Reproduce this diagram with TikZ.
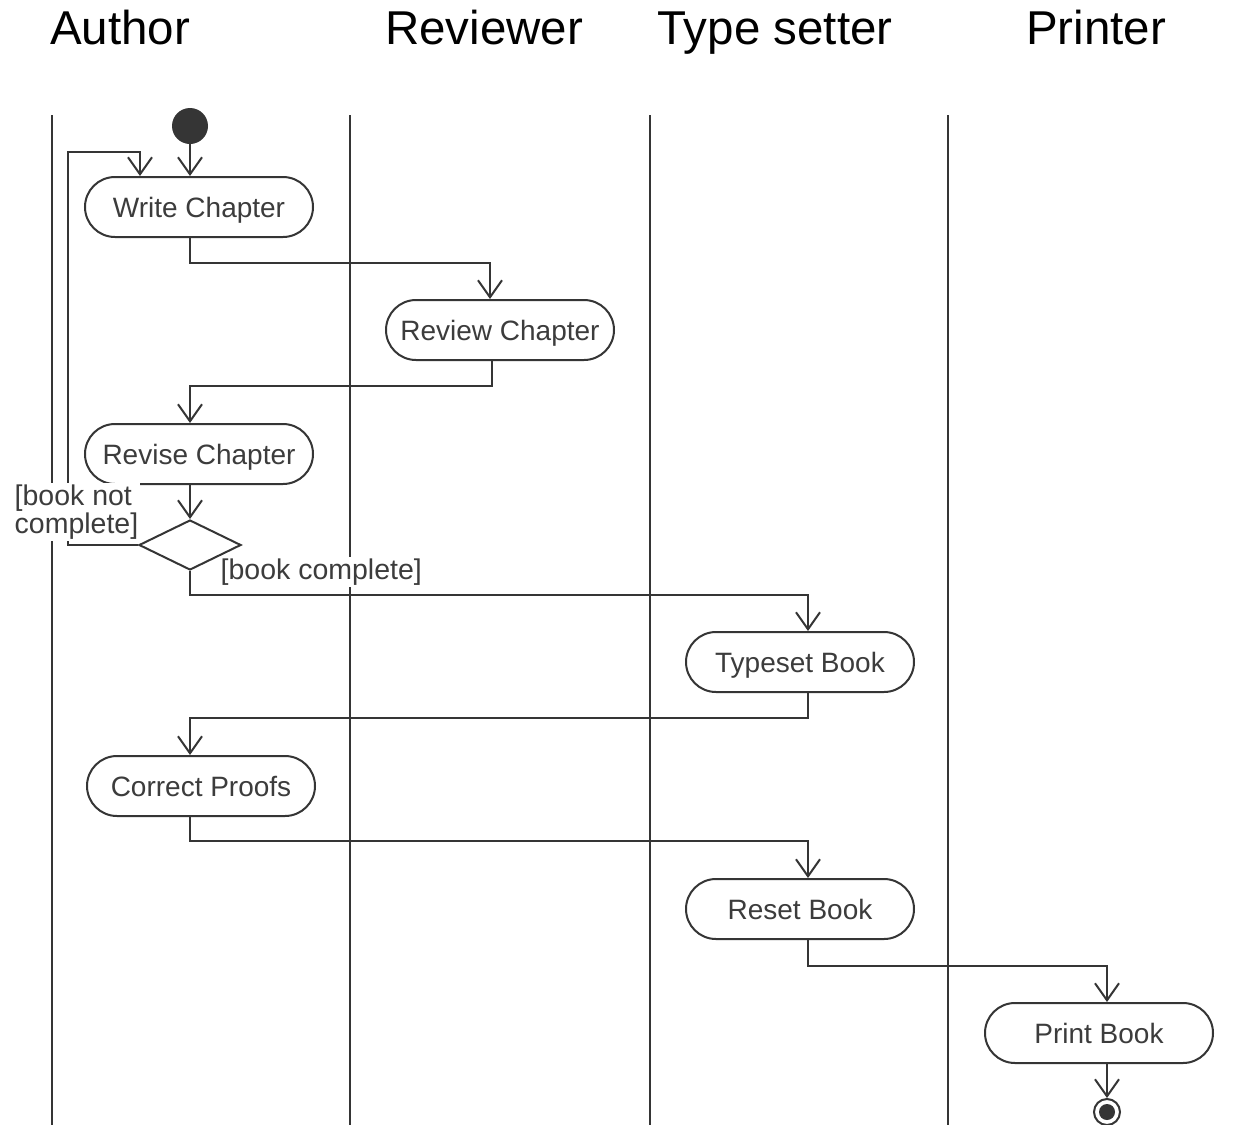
\documentclass[tikz,border=0pt]{standalone}
\usepackage{fontspec}
\setmainfont{Liberation Sans}
\usetikzlibrary{arrows.meta,shapes.geometric}
\definecolor{ink}{HTML}{353535}
\definecolor{txt}{HTML}{3C3C3C}
\begin{document}
\begin{tikzpicture}[x=1pt,y=-1pt,
  lane/.style={draw=ink,line width=2pt},
  header/.style={font=\fontsize{47.5}{50}\selectfont,anchor=base,text=black},
  activity/.style={draw=ink,line width=2pt,rectangle,rounded corners=30pt,
    minimum width=228pt,minimum height=60pt,inner sep=0pt,
    text height=20pt,text depth=0pt,
    font=\fontsize{28}{30}\selectfont,text=txt},
  flow/.style={draw=ink,line width=2pt,
    -{Straight Barb[length=17pt,width=24pt,line width=2pt]}},
  guard/.style={font=\fontsize{28.5}{24}\selectfont,text=txt,fill=white,inner sep=1.5pt}]
\useasboundingbox[fill=white] (0,0) rectangle (1235,1125);

% lane titles
\node[header] (hauthor)  at (120,44)  {Author};
\node[header] (hreview)  at (484,44)  {Reviewer};
\node[header] (htype)    at (775,44)  {Type setter};
\node[header] (hprinter) at (1096,44) {Printer};

% lane separators
\draw[lane] (52,115) -- (52,1125);
\draw[lane] (350,115) -- (350,1125);
\draw[lane] (650,115) -- (650,1125);
\draw[lane] (948,115) -- (948,1125);

% start and end
\node[circle,fill=ink,minimum size=36pt,inner sep=0pt] (start) at (190,126) {};
\node[circle,draw=ink,line width=2pt,fill=white,minimum size=26pt,inner sep=0pt] (endn) at (1107,1112) {};
\fill[ink] (endn.center) circle (8);

% activities
\node[activity] (wc) at (199,207)  {Write Chapter};
\node[activity] (rc) at (500,330)  {Review Chapter};
\node[activity] (rv) at (199,454)  {Revise Chapter};
\node[diamond,draw=ink,line width=2pt,fill=white,minimum width=102pt,minimum height=50pt,inner sep=0pt] (dec) at (190,545) {};
\node[activity] (tb) at (800,662)  {Typeset Book};
\node[activity] (cp) at (201,786)  {Correct Proofs};
\node[activity] (rb) at (800,909)  {Reset Book};
\node[activity] (pb) at (1099,1033) {Print Book};

% control flow
\coordinate (loopc) at (68,152);
\draw[flow] (start) -- (start |- wc.north);
\draw[flow] (dec.west) -| (loopc) -| ([xshift=-59pt]wc.north);
\draw[flow] ([xshift=-9pt]wc.south) -- ++(0,25) -| ([xshift=-10pt]rc.north);
\draw[flow] ([xshift=-8pt]rc.south) -- ++(0,25) -| ([xshift=-9pt]rv.north);
\draw[flow] ([xshift=-9pt]rv.south) -- (dec.north);
\draw[flow] (dec.south) -- ++(0,24) -| ([xshift=8pt]tb.north);
\draw[flow] ([xshift=8pt]tb.south) -- ++(0,25) -| ([xshift=-11pt]cp.north);
\draw[flow] ([xshift=-11pt]cp.south) -- ++(0,24) -| ([xshift=8pt]rb.north);
\draw[flow] ([xshift=8pt]rb.south) -- ++(0,26) -| ([xshift=8pt]pb.north);
\draw[flow] ([xshift=8pt]pb.south) -- (endn.north);

% guards
\node[guard,align=left,anchor=west] (gnot) at (13,512) {[book not\\complete]};
\node[guard,anchor=west] (gdone) at (219,572) {[book complete]};
\end{tikzpicture}
\end{document}
